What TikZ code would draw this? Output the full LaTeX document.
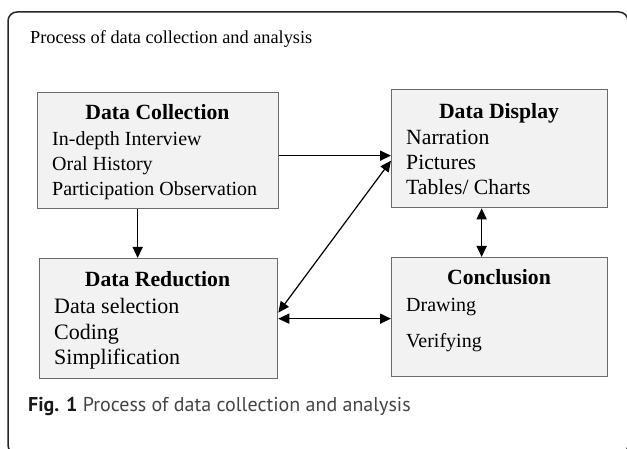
\documentclass[tikz,border=0pt]{standalone}
\usepackage{fontspec}
\setmainfont{Liberation Serif}
\newfontfamily\capfont{PT Sans}
\usetikzlibrary{arrows.meta}
\definecolor{boxfill}{HTML}{F2F2F2}
\definecolor{boxline}{HTML}{6A6A6A}
\definecolor{capgray}{HTML}{444444}
\begin{document}
\begin{tikzpicture}[x=1pt,y=-1pt,
  box/.style={draw=boxline,fill=boxfill,line width=1.3pt,rectangle,anchor=north west,inner sep=0pt},
  ttl/.style={font=\fontsize{21.7}{24}\selectfont\bfseries,anchor=base,inner sep=0pt},
  itm/.style={anchor=base west,inner sep=0pt},
  conn/.style={line width=1.6pt,-{Triangle[length=11pt,width=10pt]}},
  bconn/.style={line width=1.6pt,{Triangle[length=11pt,width=10pt]}-{Triangle[length=11pt,width=10pt]}}]
\useasboundingbox (0,0) rectangle (627,449);
\draw[line width=1.5pt,draw=black!85,rounded corners=9pt] (8,12) rectangle (628,454);
\node[anchor=base west,inner sep=0pt,font=\fontsize{18.3}{20}\selectfont] (title) at (30,44) {Process of data collection and analysis};
% boxes
\node[box,minimum width=241pt,minimum height=116pt] (dc) at (37,92) {};
\node[box,minimum width=238pt,minimum height=120pt] (dr) at (39,258) {};
\node[box,minimum width=216pt,minimum height=118pt] (dd) at (391,89) {};
\node[box,minimum width=216pt,minimum height=119pt] (cc) at (391,257) {};
% Data Collection
\node[ttl] (dct) at (157.5,120) {Data Collection};
\begin{scope}[every node/.append style={font=\fontsize{20}{22}\selectfont}]
\node[itm] (dc1) at (52,146) {In-depth Interview};
\node[itm] (dc2) at (52,171) {Oral History};
\node[itm] (dc3) at (52,196) {Participation Observation};
\end{scope}
% Data Reduction
\node[ttl] (drt) at (157.5,287) {Data Reduction};
\begin{scope}[every node/.append style={font=\fontsize{22}{24}\selectfont}]
\node[itm] (dr1) at (54,314) {Data selection};
\node[itm] (dr2) at (54,339) {Coding};
\node[itm] (dr3) at (54,364) {Simplification};
\end{scope}
% Data Display
\node[ttl] (ddt) at (499,119) {Data Display};
\begin{scope}[every node/.append style={font=\fontsize{21.7}{24}\selectfont}]
\node[itm] (dd1) at (406,145) {Narration};
\node[itm] (dd2) at (406,170) {Pictures};
\node[itm] (dd3) at (406,195) {Tables/ Charts};
\end{scope}
% Conclusion
\node[ttl] (cct) at (499,285) {Conclusion};
\begin{scope}[every node/.append style={font=\fontsize{20}{22}\selectfont}]
\node[itm] (cc1) at (406,312) {Drawing};
\node[itm] (cc2) at (406,347) {Verifying};
\end{scope}
% connectors
\draw[conn] ([xshift=-20.5pt]dc.south) -- ([xshift=-20.5pt]dc.south |- dr.north);
\draw[conn] ([yshift=-5pt]dc.east) -- ([yshift=-5pt]dc.east -| dd.west);
\draw[bconn,line width=1.2pt] ([yshift=6pt]dr.east) -- ([yshift=-12pt]dd.west);
\draw[bconn] (dr.east) -- (dr.east -| cc.west);
\draw[bconn] ([xshift=-18pt]dd.south) -- ([xshift=-18pt]dd.south |- cc.north);
% caption
\node[anchor=base west,inner sep=0pt,font=\capfont\fontsize{20}{22}\selectfont,text=capgray] (cap) at (28,411) {\textcolor{black!90}{\bfseries Fig. 1} Process of data collection and analysis};
\end{tikzpicture}
\end{document}
